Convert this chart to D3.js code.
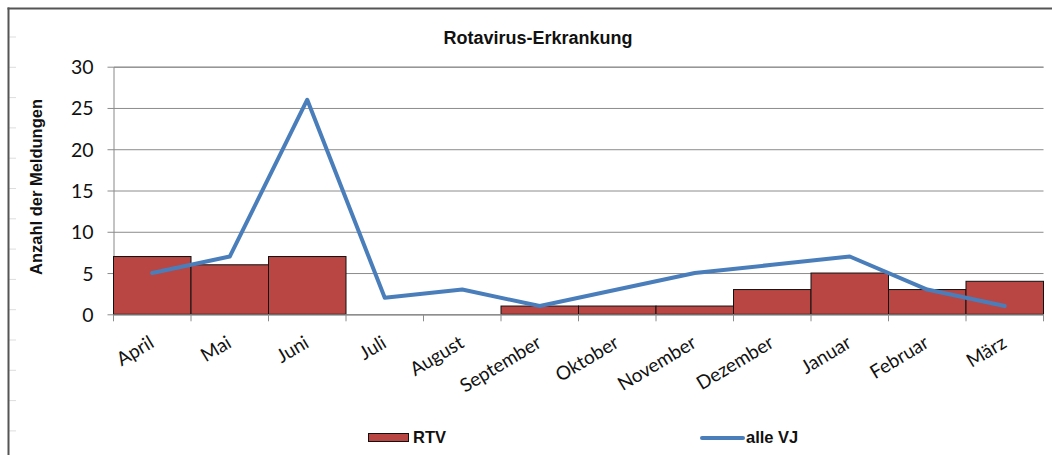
<!DOCTYPE html>
<html><head><meta charset="utf-8">
<script src="https://cdn.jsdelivr.net/npm/d3@7"></script>
<style>
body{margin:0;background:#fff;}
svg{display:block;}
</style></head>
<body><svg id="chart" width="1052" height="455"></svg>
<script>
const categories = ["April","Mai","Juni","Juli","August","September","Oktober","November","Dezember","Januar","Februar","März"];
const rtvValues = [7,6,7,0,0,1,1,1,3,5,3,4];
const alleVJValues = [5,7,26,2,3,1,3,5,6,7,3,1];
const yTicks = [0,5,10,15,20,25,30];
const titleText = "Rotavirus-Erkrankung";
const yAxisTitle = "Anzahl der Meldungen";
const legendLabels = ["RTV","alle VJ"];

const svg = d3.select("#chart");
const W = 1052, H = 455;
const m = {left:113.5, right:1043.5, top:66.7, bottom:314.3};

svg.append("rect").attr("x",0).attr("y",0).attr("width",W).attr("height",H).attr("fill","#fff");
for (let i=0;i<15;i++){
  const yy = 37 + i*30.3;
  svg.append("line").attr("x1",9).attr("x2",16).attr("y1",yy).attr("y2",yy).attr("stroke","#ddd").attr("stroke-width",1);
}
svg.append("line").attr("x1",8.5).attr("x2",8.5).attr("y1",7.5).attr("y2",H).attr("stroke","#555").attr("stroke-width",2);
svg.append("line").attr("x1",7.5).attr("x2",W).attr("y1",8.5).attr("y2",8.5).attr("stroke","#555").attr("stroke-width",2);

const x = d3.scaleBand().domain(categories).range([m.left,m.right]).padding(0);
const y = d3.scaleLinear().domain([0,30]).range([m.bottom,m.top]);

const yAxis = d3.axisLeft(y).tickValues(yTicks).tickSize(-(m.right-m.left)).tickPadding(10);
const gy = svg.append("g").attr("transform",`translate(${m.left},0)`).call(yAxis);
gy.select(".domain").attr("stroke","#888");
gy.selectAll(".tick line").attr("stroke","#8c8c8c").attr("x1",-6);
gy.selectAll(".tick text").attr("font-family","Lato, 'Open Sans', sans-serif").attr("font-size",19.5).attr("fill","#111").attr("x",-20).attr("dy","0.36em");

svg.append("g").selectAll("rect").data(categories).join("rect")
  .attr("x",d=>x(d)).attr("width",x.bandwidth())
  .attr("y",(d,i)=>y(rtvValues[i])).attr("height",(d,i)=>y(0)-y(rtvValues[i]))
  .attr("fill","#B94642").attr("stroke","#111").attr("stroke-width",1);

const xAxis = d3.axisBottom(x).tickSize(0).tickFormat("");
const gx = svg.append("g").attr("transform",`translate(0,${m.bottom})`).call(xAxis);
gx.select(".domain").attr("stroke","#8c8c8c");
const bounds = categories.map(c=>x(c)).concat([m.right]);
svg.append("g").selectAll("line").data(bounds).join("line")
  .attr("x1",d=>d).attr("x2",d=>d).attr("y1",m.bottom).attr("y2",m.bottom+7).attr("stroke","#8c8c8c");

svg.append("g").selectAll("text").data(categories).join("text")
  .attr("transform",d=>`translate(${x(d)+x.bandwidth()/2+3},${m.bottom+32}) rotate(-31)`)
  .attr("text-anchor","end")
  .attr("font-family","Lato, 'Open Sans', sans-serif").attr("font-size",19).attr("fill","#111")
  .text(d=>d);

const line = d3.line().x((d,i)=>x(categories[i])+x.bandwidth()/2).y(d=>y(d));
svg.append("path").datum(alleVJValues).attr("d",line)
  .attr("fill","none").attr("stroke","#4A7EBB").attr("stroke-width",4).attr("stroke-linejoin","round").attr("stroke-linecap","round");

svg.append("text").attr("x",538).attr("y",43.5).attr("text-anchor","middle")
  .attr("font-family","'Liberation Sans', Arial, sans-serif").attr("font-weight","bold").attr("font-size",18).attr("fill","#111")
  .text(titleText);

svg.append("text").attr("transform","translate(42,187) rotate(-90)").attr("text-anchor","middle")
  .attr("font-family","'Liberation Sans', Arial, sans-serif").attr("font-weight","bold").attr("font-size",16.5).attr("fill","#111")
  .text(yAxisTitle);

const lg = svg.append("g");
lg.append("rect").attr("x",368.5).attr("y",433.5).attr("width",40).attr("height",8).attr("fill","#B94642").attr("stroke","#111");
lg.append("text").attr("x",413).attr("y",442.5).attr("font-family","'Liberation Sans', Arial, sans-serif").attr("font-weight","bold").attr("font-size",16.5).attr("fill","#111").text(legendLabels[0]);
lg.append("line").attr("x1",702).attr("x2",743).attr("y1",438).attr("y2",438).attr("stroke","#4A7EBB").attr("stroke-width",4).attr("stroke-linecap","round");
lg.append("text").attr("x",746).attr("y",442.5).attr("font-family","'Liberation Sans', Arial, sans-serif").attr("font-weight","bold").attr("font-size",16.5).attr("fill","#111").text(legendLabels[1]);
</script>
</body></html>
